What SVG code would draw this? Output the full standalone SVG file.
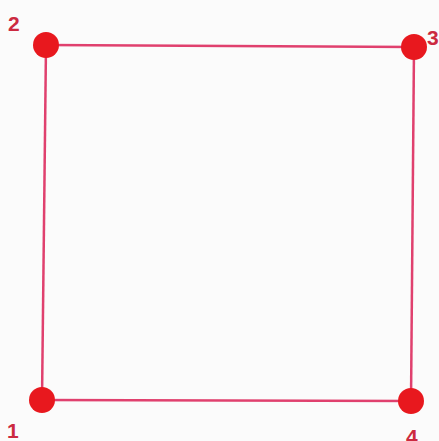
<svg xmlns="http://www.w3.org/2000/svg" width="439" height="441" viewBox="0 0 439 441">
<style>
.edge{stroke:#e0406e;stroke-width:2.5;fill:none}
.node{fill:#e8181e}
.lbl{font-family:"Liberation Sans",Arial,sans-serif;font-size:21px;font-weight:bold;fill:#cc2a40}
</style>
<rect width="439" height="441" fill="#fbfbfb"/>
<g id="connectors">
<line class="edge" x1="46" y1="45" x2="414" y2="47"/>
<line class="edge" x1="414" y1="47" x2="411" y2="401"/>
<line class="edge" x1="411" y1="401" x2="42" y2="400"/>
<line class="edge" x1="42" y1="400" x2="46" y2="45"/>
</g>
<g id="node1"><circle class="node" cx="42" cy="400" r="13"/><text class="lbl" x="7" y="438">1</text></g>
<g id="node2"><circle class="node" cx="46" cy="45" r="13"/><text class="lbl" x="8" y="31">2</text></g>
<g id="node3"><circle class="node" cx="414" cy="47" r="13"/><text class="lbl" x="427" y="45">3</text></g>
<g id="node4"><circle class="node" cx="411" cy="401" r="13"/><text class="lbl" x="406" y="444">4</text></g>
</svg>
